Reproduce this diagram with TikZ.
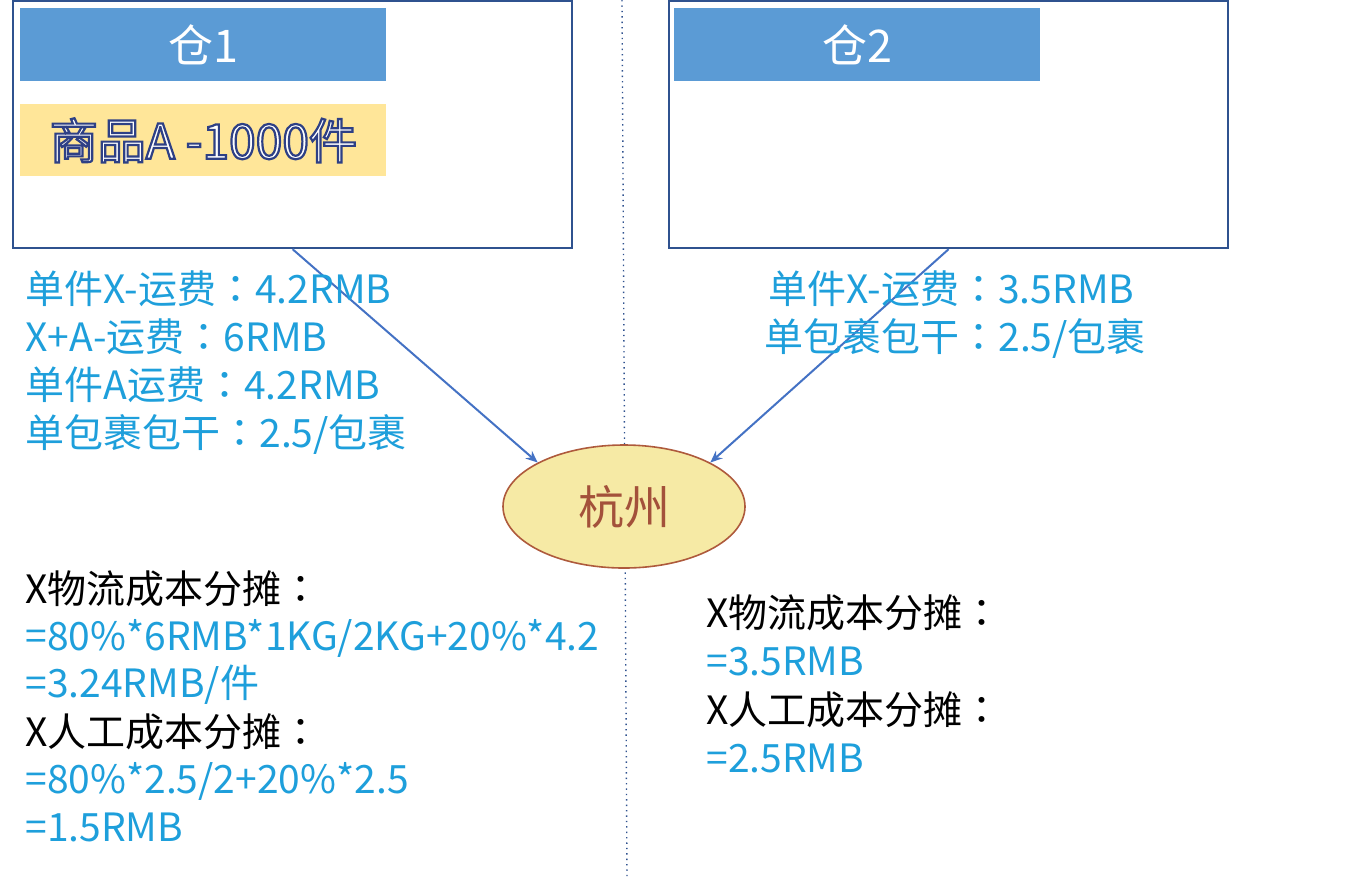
\documentclass[tikz,border=0pt]{standalone}
\usepackage{fontspec}
\newfontfamily\cjk{Noto Sans CJK SC}
\newfontfamily\cjktc{Noto Sans CJK TC}
\usetikzlibrary{arrows.meta,shapes.geometric}

\definecolor{boxline}{HTML}{2F528F}
\definecolor{headblue}{HTML}{5B9BD5}
\definecolor{goodsyellow}{HTML}{FFE699}
\definecolor{arrowblue}{HTML}{4472C4}
\definecolor{cityfill}{HTML}{F6EAA5}
\definecolor{cityline}{HTML}{AE5A3C}
\definecolor{citytext}{HTML}{A3513A}
\definecolor{txtblue}{HTML}{1E9FDB}

% hollow (outlined) text
\newcommand{\hollowtext}[1]{\special{pdf:code 2 Tr 1.1 w 0.18 0.25 0.52 RG}#1\special{pdf:code 0 Tr}}
% centred full-width colon
\newcommand{\zhcolon}{{\cjktc ：}}

\tikzset{
  warehouse/.style={draw=boxline,line width=1.1pt,fill=white,minimum width=279.5pt,minimum height=123.5pt,anchor=north west,inner sep=0pt},
  header/.style={fill=headblue,text=white,minimum width=183pt,minimum height=36.5pt,anchor=north west,inner sep=0pt,font=\cjk\fontsize{22.5}{26}\selectfont},
  goods/.style={fill=goodsyellow,text=white,minimum width=183pt,minimum height=36pt,anchor=north west,inner sep=0pt,font=\cjk\fontsize{24}{28}\selectfont},
  city/.style={ellipse,draw=cityline,line width=0.8pt,fill=cityfill,text=citytext,minimum width=121pt,minimum height=61.5pt,inner sep=0pt,font=\cjk\fontsize{23}{26}\selectfont},
  line/.style={anchor=west,inner sep=0pt,text height=0.8em,text depth=0.2em,font=\cjk\fontsize{19.5}{24}\selectfont},
  rate/.style={line,text=txtblue},
  cost/.style={line,text=black},
  route/.style={draw=arrowblue,line width=1pt,-{Stealth[length=6pt,width=5pt]}}
}

\begin{document}
\begin{tikzpicture}[x=0.5pt,y=-0.5pt]
  \useasboundingbox (0,0) rectangle (1348,880);

  % Divider
  \draw[boxline,line width=0.7pt,dotted] (622,0) -- (627,880);

  % Warehouses
  \node[warehouse] (wh1) at (12,0) {};
  \node[warehouse] (wh2) at (668,0) {};
  \node[header] (wh1title) at (20,8) {仓1};
  \node[header] (wh2title) at (674,8) {仓2};
  \node[goods] (goods) at (20,104) {\hollowtext{商品A -1000件}};

  % Destination
  \node[city] (hz) at (624,506.5) {杭州};

  % Routes
  \draw[route] (wh1.south) -- (hz.153);
  \draw[route] (wh2.south) -- (hz.27);

  % Freight rates, warehouse 1
  \node[rate] (r1a) at (25,297) {单件X-运费\zhcolon 4.2RMB};
  \node[rate] (r1b) at (25,345) {X+A-运费\zhcolon 6RMB};
  \node[rate] (r1c) at (25,393) {单件A运费\zhcolon 4.2RMB};
  \node[rate] (r1d) at (25,441) {单包裹包干\zhcolon 2.5/包裹};

  % Freight rates, warehouse 2
  \node[rate] (r2a) at (768,297) {单件X-运费\zhcolon 3.5RMB};
  \node[rate] (r2b) at (764,345) {单包裹包干\zhcolon 2.5/包裹};

  % Cost split, warehouse 1
  \node[cost] (c1a) at (25,597) {X物流成本分摊\zhcolon};
  \node[rate] (c1b) at (25,644) {=80\%*6RMB*1KG/2KG+20\%*4.2};
  \node[rate] (c1c) at (25,691) {=3.24RMB/件};
  \node[cost] (c1d) at (25,740) {X人工成本分摊\zhcolon};
  \node[rate] (c1e) at (25,787) {=80\%*2.5/2+20\%*2.5};
  \node[rate] (c1f) at (25,835) {=1.5RMB};

  % Cost split, warehouse 2
  \node[cost] (c2a) at (706,621) {X物流成本分摊\zhcolon};
  \node[rate] (c2b) at (706,669) {=3.5RMB};
  \node[cost] (c2c) at (706,718) {X人工成本分摊\zhcolon};
  \node[rate] (c2d) at (706,766) {=2.5RMB};

\end{tikzpicture}
\end{document}
